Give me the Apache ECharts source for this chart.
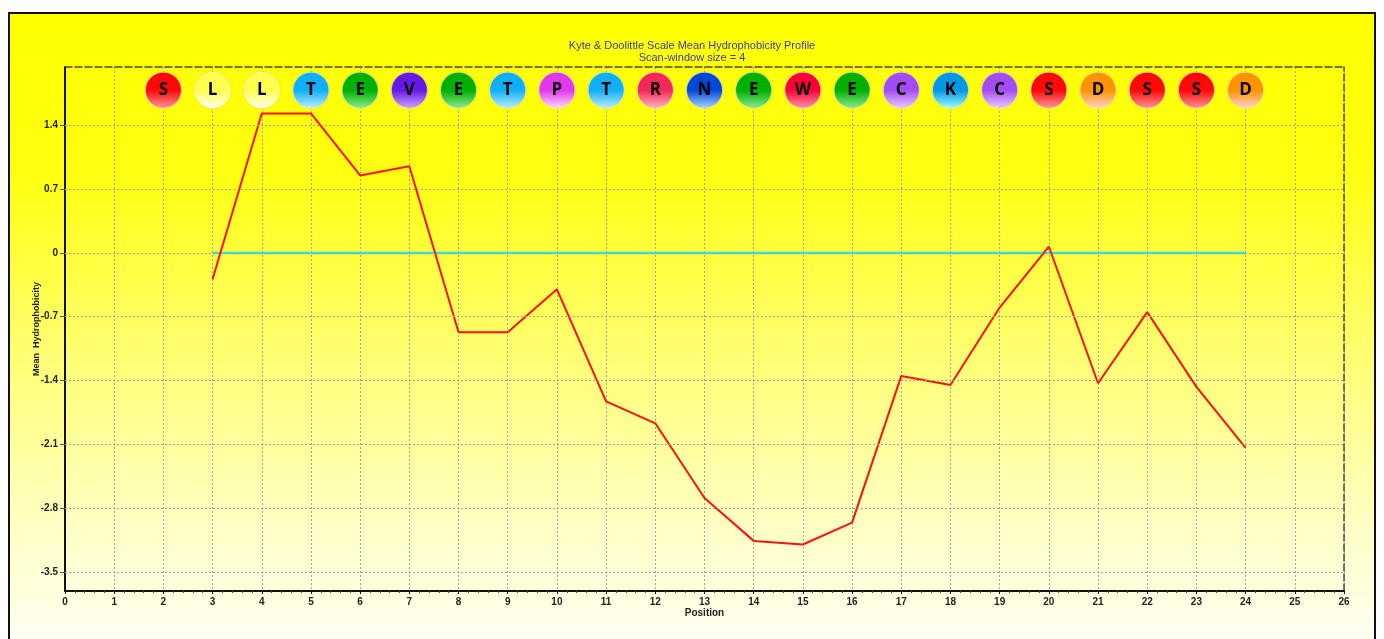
<!DOCTYPE html>
<html>
<head>
<meta charset="utf-8">
<title>Kyte & Doolittle hydrophobicity</title>
<script src="https://cdn.jsdelivr.net/npm/echarts@6/dist/echarts.min.js"></script>
<style>
  html, body { margin: 0; padding: 0; background: #fff; }
  #chart { width: 1384px; height: 639px; }
</style>
</head>
<body>
<div id="chart"></div>
<script>
// sequence shown as bubbles along the top, one per position
const residues = ['S', 'L', 'L', 'T', 'E', 'V', 'E', 'T', 'P', 'T', 'R', 'N', 'E', 'W', 'E', 'C', 'K', 'C', 'S', 'D', 'S', 'S', 'D']
const residuePositions = [2, 3, 4, 5, 6, 7, 8, 9, 10, 11, 12, 13, 14, 15, 16, 17, 18, 19, 20, 21, 22, 23, 24]

// mean hydrophobicity (window = 4)
const positions = [3, 4, 5, 6, 7, 8, 9, 10, 11, 12, 13, 14, 15, 16, 17, 18, 19, 20, 21, 22, 23, 24]
const hydro = [-0.29, 1.53, 1.53, 0.85, 0.95, -0.87, -0.87, -0.40, -1.63, -1.87, -2.69, -3.16, -3.20, -2.96, -1.35, -1.45, -0.60, 0.07, -1.43, -0.65, -1.47, -2.14]

const yTicks = [-3.5, -2.8, -2.1, -1.4, -0.7, 0, 0.7, 1.4]

const yMin = -3.71
const yMax = 2.04
const bubbleRow = 1.785

// bubble colours per amino acid: [top, bottom]
const bubbleColors = {
  S: ['#ff0808', '#ff9a9a'],
  L: ['#ffff50', '#fffff4'],
  T: ['#10b0f8', '#c0f0ff'],
  E: ['#00b000', '#90ec90'],
  V: ['#6818e4', '#d0a8ff'],
  P: ['#e038ec', '#ffe0ff'],
  R: ['#f22858', '#ffb8c8'],
  N: ['#0048d8', '#b0d8ff'],
  W: ['#ff0036', '#ff98ae'],
  C: ['#a44cf4', '#ecd0ff'],
  K: ['#0098e4', '#a8ffff'],
  D: ['#ff9400', '#ffd4d4'],
}

function bubbleStyle(letter) {
  const c = bubbleColors[letter]
  return {
    opacity: 1,
    color: new echarts.graphic.LinearGradient(0, 0, 0, 1, [
      { offset: 0, color: c[0] },
      { offset: 0.5, color: c[0] },
      { offset: 1, color: c[1] },
    ]),
    borderColor: 'rgba(255,255,255,0.55)',
    borderWidth: 1,
    shadowColor: 'rgba(0,0,0,0.15)',
    shadowBlur: 2,
  }
}

const gridLineStyle = { color: '#a4a494', width: 1, type: [2, 2] }
const frameLineStyle = { color: '#4a4a40', width: 1.5, type: [7, 3] }

const chartInstance = echarts.init(document.getElementById('chart'), null, { renderer: 'canvas' })

const option = {
  animation: false,
  backgroundColor: '#ffffff',
  graphic: [
    {
      type: 'rect',
      z: -10,
      silent: true,
      shape: { x: 9, y: 13, width: 1366, height: 640 },
      style: {
        fill: new echarts.graphic.LinearGradient(0, 0, 0, 1, [
          { offset: 0, color: '#ffff00' },
          { offset: 0.25, color: '#ffff10' },
          { offset: 0.55, color: '#ffff78' },
          { offset: 0.8, color: '#ffffc4' },
          { offset: 1, color: '#fffff8' },
        ]),
        stroke: '#111',
        lineWidth: 2,
      },
    },
  ],
  title: {
    text: 'Kyte & Doolittle Scale Mean Hydrophobicity Profile\nScan-window size = 4',
    left: 687,
    top: 35,
    textAlign: 'center',
    textStyle: {
      fontFamily: 'Liberation Sans',
      fontSize: 11,
      fontWeight: 'normal',
      color: '#3c3cb4',
      lineHeight: 12,
    },
  },
  grid: {
    left: 65,
    right: 40,
    top: 67,
    bottom: 48,
  },
  xAxis: [
    {
      type: 'value',
      min: 0,
      max: 26,
      interval: 1,
      name: 'Position',
      nameLocation: 'middle',
      nameGap: 17,
      nameMoveOverlap: false,
      nameTextStyle: { fontFamily: 'Liberation Sans', fontSize: 10, fontWeight: 'bold', color: '#222' },
      axisLine: { onZero: false, lineStyle: { color: '#111', width: 2 } },
      axisTick: { show: true, length: 3, lineStyle: { color: '#111' } },
      minorTick: { show: true, splitNumber: 5, length: 2, lineStyle: { color: '#444' } },
      axisLabel: {
        margin: 6,
        fontFamily: 'Liberation Sans',
        fontSize: 10,
        fontWeight: 'bold',
        color: '#222',
      },
      splitLine: { show: true, lineStyle: gridLineStyle },
    },
    {
      type: 'value',
      position: 'top',
      min: 0,
      max: 26,
      axisLine: { show: true, onZero: false, lineStyle: frameLineStyle },
      axisTick: { show: false },
      axisLabel: { show: false },
      splitLine: { show: false },
    },
  ],
  yAxis: [
    {
      type: 'value',
      min: yMin,
      max: yMax,
      name: 'Mean  Hydrophobicity',
      nameLocation: 'middle',
      nameGap: 24,
      nameMoveOverlap: false,
      nameTextStyle: { fontFamily: 'Liberation Sans', fontSize: 9, fontWeight: 'bold', color: '#222' },
      axisLine: { show: true, onZero: false, lineStyle: { color: '#111', width: 2 } },
      axisTick: { show: true, length: 5, customValues: yTicks, lineStyle: { color: '#555' } },
      axisLabel: {
        customValues: yTicks,
        margin: 7,
        fontFamily: 'Liberation Sans',
        fontSize: 10,
        fontWeight: 'bold',
        color: '#222',
      },
      splitLine: { show: false },
    },
    {
      type: 'value',
      position: 'right',
      min: yMin,
      max: yMax,
      axisLine: { show: true, onZero: false, lineStyle: frameLineStyle },
      axisTick: { show: false },
      axisLabel: { show: false },
      splitLine: { show: false },
    },
  ],
  series: [
    {
      // horizontal dotted grid at the labelled ticks
      type: 'line',
      data: [],
      markLine: {
        silent: true,
        symbol: 'none',
        label: { show: false },
        lineStyle: gridLineStyle,
        data: yTicks.map((v) => ({ yAxis: v })),
      },
    },
    {
      name: 'zero',
      type: 'line',
      showSymbol: false,
      data: [[positions[0], 0], [positions[positions.length - 1], 0]],
      lineStyle: { color: '#30e4e4', width: 2.5 },
      z: 3,
    },
    {
      name: 'Mean Hydrophobicity',
      type: 'line',
      showSymbol: false,
      data: positions.map((p, i) => [p, hydro[i]]),
      lineStyle: { color: '#ff1010', width: 2 },
      z: 4,
    },
    {
      name: 'residues',
      type: 'scatter',
      symbol: 'circle',
      symbolSize: 36,
      z: 5,
      data: residues.map((r, i) => ({
        value: [residuePositions[i], bubbleRow],
        itemStyle: bubbleStyle(r),
        label: {
          show: true,
          formatter: r,
          position: 'inside',
          fontFamily: 'Open Sans',
          fontWeight: 'bold',
          fontSize: 17,
          color: '#000',
        },
      })),
    },
  ],
}

chartInstance.setOption(option)
</script>
</body>
</html>
